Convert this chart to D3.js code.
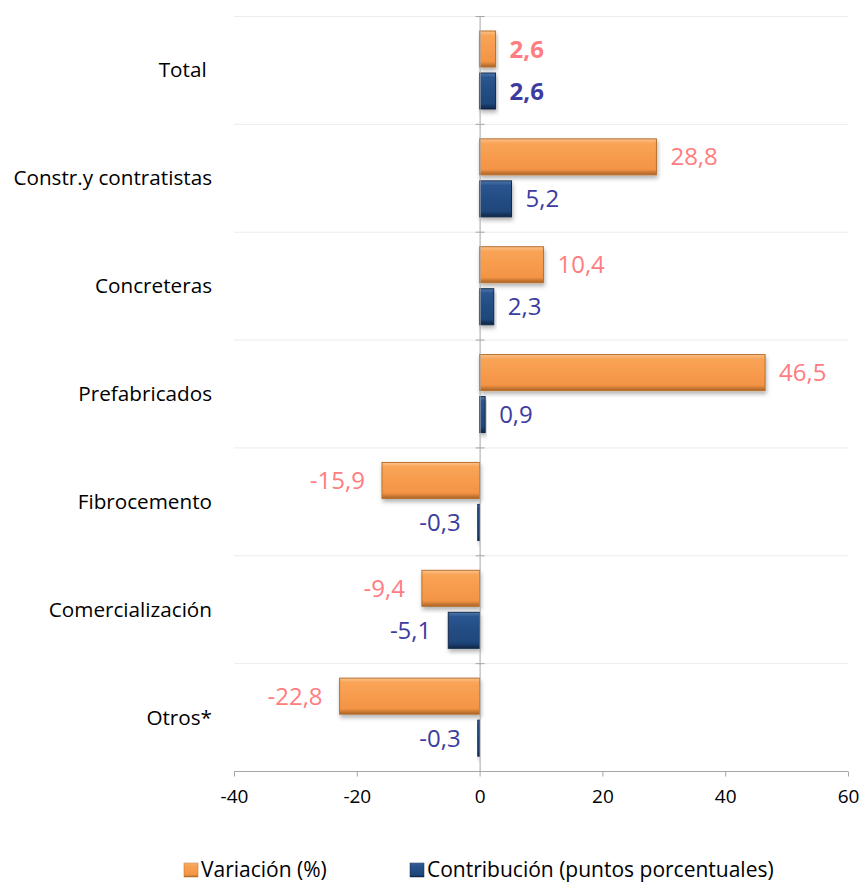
<!DOCTYPE html>
<html>
<head>
<meta charset="utf-8">
<script src="https://cdn.jsdelivr.net/npm/d3@7"></script>
<style>
  body { margin: 0; background: #fff; }
  text { font-family: "Open Sans", sans-serif; }
</style>
</head>
<body>
<svg id="chart" width="860" height="883"></svg>
<script>
var categories = ["Total ", "Constr.y contratistas", "Concreteras", "Prefabricados", "Fibrocemento", "Comercialización", "Otros*"];
var variacion = [2.6, 28.8, 10.4, 46.5, -15.9, -9.4, -22.8];
var contribucion = [2.6, 5.2, 2.3, 0.9, -0.3, -5.1, -0.3];
var xTicks = [-40, -20, 0, 20, 40, 60];
var seriesNames = ["Variación (%)", "Contribución (puntos porcentuales)"];

var svg = d3.select("#chart");
var plotLeft = 234, plotRight = 848, plotTop = 16, plotBottom = 771;

var x = d3.scaleLinear().domain([-40, 60]).range([plotLeft, plotRight]);
var y = d3.scaleBand().domain(categories).range([plotTop, plotBottom]);

var defs = svg.append("defs");
var grad = function(id, stops) {
    var g = defs.append("linearGradient").attr("id", id)
        .attr("x1", 0).attr("y1", 0).attr("x2", 0).attr("y2", 1);
    stops.forEach(function(s) {
        g.append("stop").attr("offset", s[0]).attr("stop-color", s[1]);
    });
};
grad("gOrange", [[0, "#fcc48f"], [0.12, "#f9a456"], [0.5, "#f79b4d"], [0.85, "#f39445"], [1, "#a86226"]]);
grad("gBlue", [[0, "#4f79ad"], [0.12, "#2a5590"], [0.5, "#234d83"], [0.85, "#1f467a"], [1, "#0f2545"]]);
var f = defs.append("filter").attr("id", "shadow").attr("x", "-10%").attr("y", "-20%").attr("width", "130%").attr("height", "160%");
f.append("feDropShadow").attr("dx", 1).attr("dy", 3).attr("stdDeviation", 2).attr("flood-color", "#000").attr("flood-opacity", 0.3);

// horizontal separators
var bounds = categories.map(function(c) { return y(c); }).concat([plotBottom]);
svg.append("g").selectAll("line").data(bounds.slice(0, -1)).enter().append("line")
    .attr("x1", plotLeft).attr("x2", plotRight)
    .attr("y1", function(d) { return d + 0.5; }).attr("y2", function(d) { return d + 0.5; })
    .attr("stroke", "#ececec").attr("stroke-width", 1);

var bw = y.bandwidth();
var barH = 36;
var off1 = 15, off2 = 57;

var drawBars = function(vals, fill, dark, offset, cls) {
    svg.append("g").selectAll("rect").data(vals).enter().append("rect")
        .attr("class", cls)
        .attr("x", function(d) { return Math.min(x(0), x(d)); })
        .attr("width", function(d) { return Math.max(Math.abs(x(d) - x(0)), 1.5); })
        .attr("y", function(d, i) { return y(categories[i]) + offset; })
        .attr("height", barH)
        .attr("fill", fill)
        .attr("stroke", dark).attr("stroke-width", 1)
        .attr("filter", "url(#shadow)");
};
drawBars(variacion, "url(#gOrange)", "#b8702e", off1, "var");
drawBars(contribucion, "url(#gBlue)", "#13294a", off2, "con");

// value labels
var drawLabels = function(vals, color, offset) {
    svg.append("g").selectAll("text").data(vals).enter().append("text")
        .attr("x", function(d) { return d >= 0 ? x(d) + 14 : x(d) - 17; })
        .attr("y", function(d, i) { return y(categories[i]) + offset + barH / 2 + 8.5; })
        .attr("text-anchor", function(d) { return d >= 0 ? "start" : "end"; })
        .attr("font-size", 24)
        .attr("font-weight", function(d, i) { return i === 0 ? "bold" : "normal"; })
        .attr("fill", color)
        .text(function(d) { return d.toFixed(1).replace(".", ","); });
};
drawLabels(variacion, "#ff7c80", off1);
drawLabels(contribucion, "#3c3ca0", off2);

// category labels
svg.append("g").selectAll("text").data(categories).enter().append("text")
    .attr("x", 212)
    .attr("y", function(d) { return y(d) + bw / 2 + 7.5; })
    .attr("text-anchor", "end")
    .attr("font-size", 20.7)
    .attr("fill", "#000")
    .style("white-space", "pre")
    .text(function(d) { return d; });

// vertical zero axis
svg.append("line").attr("x1", x(0) + 0.5).attr("x2", x(0) + 0.5)
    .attr("y1", plotTop).attr("y2", plotBottom).attr("stroke", "#a6a6a6");
svg.append("g").selectAll("line").data(bounds).enter().append("line")
    .attr("x1", x(0) - 4).attr("x2", x(0) + 5)
    .attr("y1", function(d) { return d + 0.5; }).attr("y2", function(d) { return d + 0.5; })
    .attr("stroke", "#a6a6a6");

// bottom axis
var xAxis = d3.axisBottom(x).tickValues(xTicks).tickSize(5).tickPadding(13)
    .tickFormat(function(d) { return String(d); });
var ax = svg.append("g").attr("transform", "translate(0," + (plotBottom + 0.5) + ")").call(xAxis);
ax.select(".domain").attr("stroke", "#a6a6a6").attr("d", "M" + plotLeft + ",0H" + plotRight);
ax.selectAll(".tick line").attr("stroke", "#a6a6a6");
ax.selectAll(".tick text").attr("font-size", 19).attr("fill", "#000")
    .attr("font-family", "Open Sans, sans-serif");

// legend
var legend = svg.append("g");
var legItems = [
    { name: seriesNames[0], fill: "url(#gOrange)", stroke: "#b8702e", x: 184 },
    { name: seriesNames[1], fill: "url(#gBlue)", stroke: "#13294a", x: 410 }
];
legItems.forEach(function(d) {
    legend.append("rect").attr("x", d.x).attr("y", 863).attr("width", 14).attr("height", 14)
        .attr("fill", d.fill).attr("stroke", d.stroke).attr("stroke-width", 0.5);
    legend.append("text").attr("x", d.x + 17).attr("y", 877)
        .attr("font-size", 21).attr("fill", "#000").text(d.name);
});
</script>
</body>
</html>
